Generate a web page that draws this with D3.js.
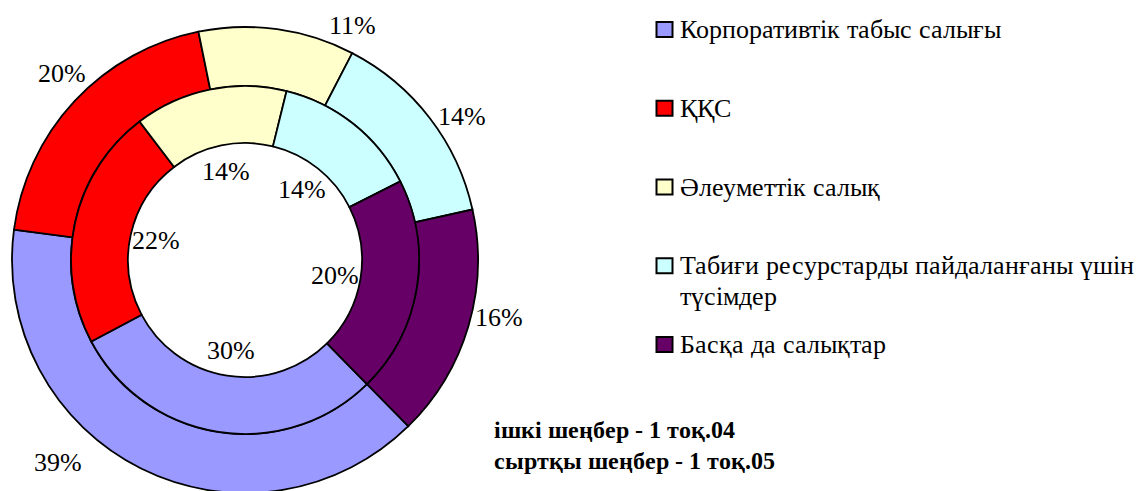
<!DOCTYPE html>
<html>
<head>
<meta charset="utf-8">
<script src="https://d3js.org/d3.v7.min.js"></script>
</head>
<body style="margin:0; background:#fff">
<div id="chart"></div>
<script>
// categories (legend order = slice order)
var categories = [
    "Корпоративтік табыс салығы",
    "ҚҚС",
    "Әлеуметтік салық",
    "Табиғи ресурстарды пайдаланғаны үшін түсімдер",
    "Басқа да салықтар"
];
// inner ring - 1 тоқ.04
var innerValues = [29.6, 22.4, 14.2, 13.7, 20.1];
// outer ring - 1 тоқ.05
var outerValues = [39.4, 19.7, 10.8, 13.9, 16.1];
var notes = ["ішкі шеңбер - 1 тоқ.04", "сыртқы шеңбер - 1 тоқ.05"];

var colors = ["#9999FF", "#FF0000", "#FFFFCC", "#CCFFFF", "#660066"];

var width = 1141, height = 491;
var cx = 245, cy = 260;
var rHole = 117, rMid = 174, rOuter = 233;

// serif face mapped onto the installed Liberation Serif files
var css = document.createElement("style");
css.textContent =
    "@font-face{font-family:'RefSerif';font-weight:400;src:local('Liberation Serif'),local('LiberationSerif'),local('Liberation Serif Regular'),local('LiberationSerif-Regular'),local('Tinos');}" +
    "@font-face{font-family:'RefSerif';font-weight:700;src:local('Liberation Serif Bold'),local('LiberationSerif-Bold'),local('Tinos Bold'),local('Tinos-Bold');}";
document.head.appendChild(css);
var font = "RefSerif, 'Liberation Serif', Tinos, 'Times New Roman', serif";

// label placement (degrees added to slice mid-angle, and radius)
var outerNudge = [16.3, 2.6, 16.6, 4, -3.8];
var outerLabelR = [275, 262, 258, 260, 260];
var innerLabelR = 91;

var svg = d3.select("#chart")
    .append("svg")
    .attr("width", width)
    .attr("height", height)
    .style("font-family", font);

var g = svg.append("g")
    .attr("transform", "translate(" + cx + "," + cy + ")");

var start = 135.5 * Math.PI / 180;
var pie = d3.pie().sort(null).value(function (d) { return d; })
    .startAngle(start).endAngle(start + 2 * Math.PI);

var pct = function (vals) {
    var s = d3.sum(vals);
    return function (v) { return d3.format(".0%")(v / s); };
};

var innerArc = d3.arc().innerRadius(rHole).outerRadius(rMid);
var outerArc = d3.arc().innerRadius(rMid).outerRadius(rOuter);

var innerPie = pie(innerValues);
var outerPie = pie(outerValues);

g.append("g").selectAll("path")
    .data(outerPie)
    .enter().append("path")
    .attr("d", outerArc)
    .style("fill", function (d, i) { return colors[i]; })
    .style("stroke", "#000")
    .style("stroke-width", "1.8px");

g.append("g").selectAll("path")
    .data(innerPie)
    .enter().append("path")
    .attr("d", innerArc)
    .style("fill", function (d, i) { return colors[i]; })
    .style("stroke", "#000")
    .style("stroke-width", "1.8px");

var polar = function (r, a) { return [r * Math.sin(a), -r * Math.cos(a)]; };
var fmtOuter = pct(outerValues), fmtInner = pct(innerValues);

g.append("g").selectAll("text")
    .data(outerPie)
    .enter().append("text")
    .attr("transform", function (d, i) {
        var a = (d.startAngle + d.endAngle) / 2 + outerNudge[i] * Math.PI / 180;
        return "translate(" + polar(outerLabelR[i], a) + ")";
    })
    .attr("dy", "0.34em")
    .attr("text-anchor", "middle")
    .style("font-family", font)
    .style("font-size", "26px")
    .text(function (d) { return fmtOuter(d.value); });

g.append("g").selectAll("text")
    .data(innerPie)
    .enter().append("text")
    .attr("transform", function (d) {
        var a = (d.startAngle + d.endAngle) / 2;
        return "translate(" + polar(innerLabelR, a) + ")";
    })
    .attr("dy", "0.34em")
    .attr("text-anchor", "middle")
    .style("font-family", font)
    .style("font-size", "26px")
    .text(function (d) { return fmtInner(d.value); });

// legend
var ly = d3.scaleLinear().domain([0, categories.length - 1]).range([38, 353]);
var legend = svg.append("g").attr("class", "legend");

legend.selectAll("rect")
    .data(categories)
    .enter().append("rect")
    .attr("x", 656.5)
    .attr("y", function (d, i) { return ly(i) - 16; })
    .attr("width", 16)
    .attr("height", 15)
    .style("fill", function (d, i) { return colors[i]; })
    .style("stroke", "#000")
    .style("stroke-width", "2px");

// the long item wraps onto a second line, as in the original
var legendLines = categories.map(function (c, i) {
    return i === 3 ? ["Табиғи ресурстарды пайдаланғаны үшін", "түсімдер"] : [c];
});

legendLines.forEach(function (lines, i) {
    lines.forEach(function (t, j) {
        legend.append("text")
            .attr("x", 680)
            .attr("y", ly(i) + j * 31)
            .style("font-family", font)
            .style("font-size", "26px")
            .text(t);
    });
});

// ring notes
svg.append("g").selectAll("text")
    .data(notes)
    .enter().append("text")
    .attr("x", 494)
    .attr("y", function (d, i) { return 438 + i * 31; })
    .style("font-family", font)
    .style("font-size", "24px")
    .style("font-weight", "bold")
    .text(function (d) { return d; });
</script>
</body>
</html>
